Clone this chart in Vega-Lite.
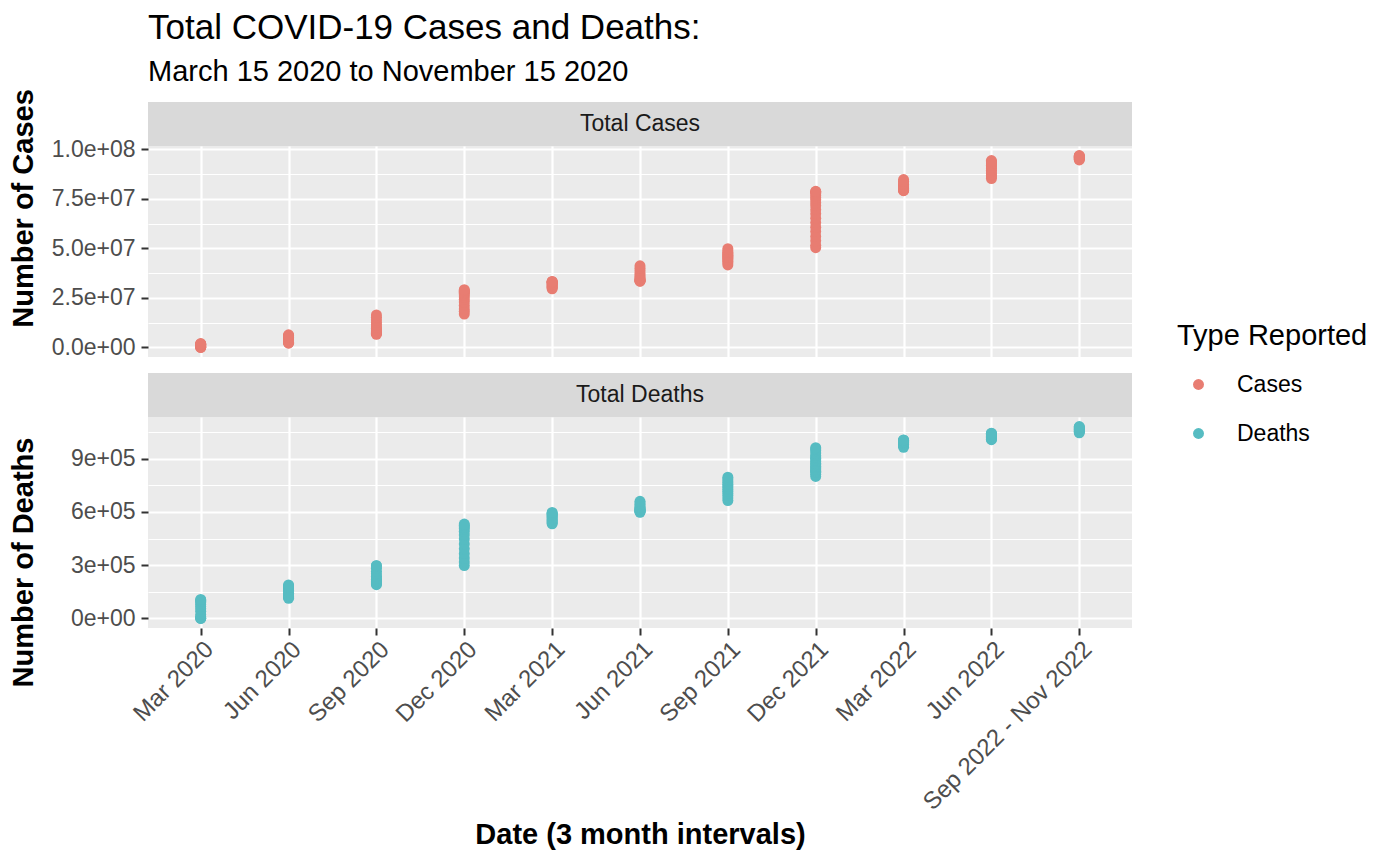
{
  "$schema": "https://vega.github.io/schema/vega-lite/v6.json",
  "padding": {"left": 9, "top": 10, "right": 10, "bottom": 10},
  "background": "white",
  "title": {
    "text": "Total COVID-19 Cases and Deaths:",
    "subtitle": "March 15 2020 to November 15 2020",
    "anchor": "start",
    "dx": 139,
    "fontSize": 35,
    "subtitleFontSize": 29,
    "fontWeight": "normal",
    "color": "#000000",
    "subtitleColor": "#000000",
    "subtitlePadding": 12,
    "offset": 2
  },
  "datasets": {
    "covid": [
      {"period": "Mar 2020", "Cases": 3500, "Deaths": 70},
      {"period": "Mar 2020", "Cases": 35000, "Deaths": 400},
      {"period": "Mar 2020", "Cases": 140000, "Deaths": 2500},
      {"period": "Mar 2020", "Cases": 340000, "Deaths": 9500},
      {"period": "Mar 2020", "Cases": 560000, "Deaths": 22000},
      {"period": "Mar 2020", "Cases": 760000, "Deaths": 40000},
      {"period": "Mar 2020", "Cases": 970000, "Deaths": 54000},
      {"period": "Mar 2020", "Cases": 1160000, "Deaths": 67000},
      {"period": "Mar 2020", "Cases": 1330000, "Deaths": 79000},
      {"period": "Mar 2020", "Cases": 1490000, "Deaths": 88000},
      {"period": "Mar 2020", "Cases": 1640000, "Deaths": 97000},
      {"period": "Mar 2020", "Cases": 1790000, "Deaths": 103000},
      {"period": "Mar 2020", "Cases": 1950000, "Deaths": 107000},
      {"period": "Jun 2020", "Cases": 2100000, "Deaths": 113000},
      {"period": "Jun 2020", "Cases": 2300000, "Deaths": 118000},
      {"period": "Jun 2020", "Cases": 2550000, "Deaths": 123000},
      {"period": "Jun 2020", "Cases": 2900000, "Deaths": 127000},
      {"period": "Jun 2020", "Cases": 3300000, "Deaths": 133000},
      {"period": "Jun 2020", "Cases": 3750000, "Deaths": 142000},
      {"period": "Jun 2020", "Cases": 4250000, "Deaths": 150000},
      {"period": "Jun 2020", "Cases": 4700000, "Deaths": 158000},
      {"period": "Jun 2020", "Cases": 5050000, "Deaths": 166000},
      {"period": "Jun 2020", "Cases": 5400000, "Deaths": 172000},
      {"period": "Jun 2020", "Cases": 5700000, "Deaths": 178000},
      {"period": "Jun 2020", "Cases": 6000000, "Deaths": 184000},
      {"period": "Jun 2020", "Cases": 6350000, "Deaths": 189000},
      {"period": "Sep 2020", "Cases": 6600000, "Deaths": 190000},
      {"period": "Sep 2020", "Cases": 6900000, "Deaths": 196000},
      {"period": "Sep 2020", "Cases": 7200000, "Deaths": 201000},
      {"period": "Sep 2020", "Cases": 7500000, "Deaths": 206000},
      {"period": "Sep 2020", "Cases": 7900000, "Deaths": 211000},
      {"period": "Sep 2020", "Cases": 8300000, "Deaths": 216000},
      {"period": "Sep 2020", "Cases": 8800000, "Deaths": 221000},
      {"period": "Sep 2020", "Cases": 9500000, "Deaths": 228000},
      {"period": "Sep 2020", "Cases": 10300000, "Deaths": 238000},
      {"period": "Sep 2020", "Cases": 11400000, "Deaths": 252000},
      {"period": "Sep 2020", "Cases": 12600000, "Deaths": 266000},
      {"period": "Sep 2020", "Cases": 13900000, "Deaths": 282000},
      {"period": "Sep 2020", "Cases": 15200000, "Deaths": 297000},
      {"period": "Sep 2020", "Cases": 16400000, "Deaths": 297000},
      {"period": "Dec 2020", "Cases": 16800000, "Deaths": 298000},
      {"period": "Dec 2020", "Cases": 18200000, "Deaths": 318000},
      {"period": "Dec 2020", "Cases": 19400000, "Deaths": 340000},
      {"period": "Dec 2020", "Cases": 21200000, "Deaths": 365000},
      {"period": "Dec 2020", "Cases": 22900000, "Deaths": 392000},
      {"period": "Dec 2020", "Cases": 24200000, "Deaths": 420000},
      {"period": "Dec 2020", "Cases": 25400000, "Deaths": 447000},
      {"period": "Dec 2020", "Cases": 26400000, "Deaths": 470000},
      {"period": "Dec 2020", "Cases": 27200000, "Deaths": 490000},
      {"period": "Dec 2020", "Cases": 27800000, "Deaths": 505000},
      {"period": "Dec 2020", "Cases": 28300000, "Deaths": 515000},
      {"period": "Dec 2020", "Cases": 28700000, "Deaths": 524000},
      {"period": "Dec 2020", "Cases": 29100000, "Deaths": 532000},
      {"period": "Mar 2021", "Cases": 29600000, "Deaths": 533000},
      {"period": "Mar 2021", "Cases": 30000000, "Deaths": 538000},
      {"period": "Mar 2021", "Cases": 30400000, "Deaths": 544000},
      {"period": "Mar 2021", "Cases": 30900000, "Deaths": 550000},
      {"period": "Mar 2021", "Cases": 31300000, "Deaths": 556000},
      {"period": "Mar 2021", "Cases": 31700000, "Deaths": 562000},
      {"period": "Mar 2021", "Cases": 32100000, "Deaths": 568000},
      {"period": "Mar 2021", "Cases": 32500000, "Deaths": 574000},
      {"period": "Mar 2021", "Cases": 32700000, "Deaths": 580000},
      {"period": "Mar 2021", "Cases": 32900000, "Deaths": 585000},
      {"period": "Mar 2021", "Cases": 33050000, "Deaths": 589000},
      {"period": "Mar 2021", "Cases": 33200000, "Deaths": 593000},
      {"period": "Mar 2021", "Cases": 33300000, "Deaths": 597000},
      {"period": "Jun 2021", "Cases": 33400000, "Deaths": 598000},
      {"period": "Jun 2021", "Cases": 33500000, "Deaths": 601000},
      {"period": "Jun 2021", "Cases": 33600000, "Deaths": 604000},
      {"period": "Jun 2021", "Cases": 33800000, "Deaths": 607000},
      {"period": "Jun 2021", "Cases": 34100000, "Deaths": 610000},
      {"period": "Jun 2021", "Cases": 34500000, "Deaths": 613000},
      {"period": "Jun 2021", "Cases": 35000000, "Deaths": 616000},
      {"period": "Jun 2021", "Cases": 35700000, "Deaths": 620000},
      {"period": "Jun 2021", "Cases": 36600000, "Deaths": 626000},
      {"period": "Jun 2021", "Cases": 37600000, "Deaths": 633000},
      {"period": "Jun 2021", "Cases": 38800000, "Deaths": 642000},
      {"period": "Jun 2021", "Cases": 40000000, "Deaths": 651000},
      {"period": "Jun 2021", "Cases": 41200000, "Deaths": 660000},
      {"period": "Sep 2021", "Cases": 41600000, "Deaths": 664000},
      {"period": "Sep 2021", "Cases": 42600000, "Deaths": 678000},
      {"period": "Sep 2021", "Cases": 43400000, "Deaths": 692000},
      {"period": "Sep 2021", "Cases": 44100000, "Deaths": 704000},
      {"period": "Sep 2021", "Cases": 44700000, "Deaths": 716000},
      {"period": "Sep 2021", "Cases": 45300000, "Deaths": 726000},
      {"period": "Sep 2021", "Cases": 45800000, "Deaths": 736000},
      {"period": "Sep 2021", "Cases": 46300000, "Deaths": 746000},
      {"period": "Sep 2021", "Cases": 46800000, "Deaths": 754000},
      {"period": "Sep 2021", "Cases": 47400000, "Deaths": 764000},
      {"period": "Sep 2021", "Cases": 48000000, "Deaths": 775000},
      {"period": "Sep 2021", "Cases": 48800000, "Deaths": 786000},
      {"period": "Sep 2021", "Cases": 49800000, "Deaths": 796000},
      {"period": "Dec 2021", "Cases": 50300000, "Deaths": 800000},
      {"period": "Dec 2021", "Cases": 51500000, "Deaths": 812000},
      {"period": "Dec 2021", "Cases": 53800000, "Deaths": 824000},
      {"period": "Dec 2021", "Cases": 56000000, "Deaths": 830000},
      {"period": "Dec 2021", "Cases": 58500000, "Deaths": 836000},
      {"period": "Dec 2021", "Cases": 60700000, "Deaths": 843000},
      {"period": "Dec 2021", "Cases": 63000000, "Deaths": 850000},
      {"period": "Dec 2021", "Cases": 65200000, "Deaths": 858000},
      {"period": "Dec 2021", "Cases": 67500000, "Deaths": 866000},
      {"period": "Dec 2021", "Cases": 69500000, "Deaths": 875000},
      {"period": "Dec 2021", "Cases": 71500000, "Deaths": 884000},
      {"period": "Dec 2021", "Cases": 73000000, "Deaths": 893000},
      {"period": "Dec 2021", "Cases": 74500000, "Deaths": 902000},
      {"period": "Dec 2021", "Cases": 75500000, "Deaths": 910000},
      {"period": "Dec 2021", "Cases": 76500000, "Deaths": 918000},
      {"period": "Dec 2021", "Cases": 77600000, "Deaths": 932000},
      {"period": "Dec 2021", "Cases": 78300000, "Deaths": 945000},
      {"period": "Dec 2021", "Cases": 78600000, "Deaths": 955000},
      {"period": "Dec 2021", "Cases": 78800000, "Deaths": 962000},
      {"period": "Mar 2022", "Cases": 79100000, "Deaths": 964000},
      {"period": "Mar 2022", "Cases": 79300000, "Deaths": 971000},
      {"period": "Mar 2022", "Cases": 79500000, "Deaths": 977000},
      {"period": "Mar 2022", "Cases": 79700000, "Deaths": 982000},
      {"period": "Mar 2022", "Cases": 80000000, "Deaths": 986000},
      {"period": "Mar 2022", "Cases": 80300000, "Deaths": 990000},
      {"period": "Mar 2022", "Cases": 80700000, "Deaths": 993000},
      {"period": "Mar 2022", "Cases": 81200000, "Deaths": 996000},
      {"period": "Mar 2022", "Cases": 81700000, "Deaths": 998000},
      {"period": "Mar 2022", "Cases": 82300000, "Deaths": 1000000},
      {"period": "Mar 2022", "Cases": 83000000, "Deaths": 1002000},
      {"period": "Mar 2022", "Cases": 83800000, "Deaths": 1004000},
      {"period": "Mar 2022", "Cases": 84700000, "Deaths": 1006000},
      {"period": "Jun 2022", "Cases": 85200000, "Deaths": 1007000},
      {"period": "Jun 2022", "Cases": 86000000, "Deaths": 1010000},
      {"period": "Jun 2022", "Cases": 86800000, "Deaths": 1013000},
      {"period": "Jun 2022", "Cases": 87600000, "Deaths": 1016000},
      {"period": "Jun 2022", "Cases": 88500000, "Deaths": 1019000},
      {"period": "Jun 2022", "Cases": 89400000, "Deaths": 1022000},
      {"period": "Jun 2022", "Cases": 90300000, "Deaths": 1026000},
      {"period": "Jun 2022", "Cases": 91100000, "Deaths": 1029000},
      {"period": "Jun 2022", "Cases": 91800000, "Deaths": 1033000},
      {"period": "Jun 2022", "Cases": 92500000, "Deaths": 1036000},
      {"period": "Jun 2022", "Cases": 93100000, "Deaths": 1039000},
      {"period": "Jun 2022", "Cases": 93700000, "Deaths": 1042000},
      {"period": "Jun 2022", "Cases": 94300000, "Deaths": 1044000},
      {"period": "Sep 2022 - Nov 2022", "Cases": 94600000, "Deaths": 1046000},
      {"period": "Sep 2022 - Nov 2022", "Cases": 94900000, "Deaths": 1050000},
      {"period": "Sep 2022 - Nov 2022", "Cases": 95200000, "Deaths": 1054000},
      {"period": "Sep 2022 - Nov 2022", "Cases": 95500000, "Deaths": 1058000},
      {"period": "Sep 2022 - Nov 2022", "Cases": 95800000, "Deaths": 1062000},
      {"period": "Sep 2022 - Nov 2022", "Cases": 96000000, "Deaths": 1066000},
      {"period": "Sep 2022 - Nov 2022", "Cases": 96200000, "Deaths": 1070000},
      {"period": "Sep 2022 - Nov 2022", "Cases": 96400000, "Deaths": 1074000},
      {"period": "Sep 2022 - Nov 2022", "Cases": 96600000, "Deaths": 1078000},
      {"period": "Sep 2022 - Nov 2022", "Cases": 96800000, "Deaths": 1081000}
    ]
  },
  "data": {"name": "covid"},
  "spacing": 13,
  "resolve": {"scale": {"color": "shared"}, "legend": {"color": "shared"}},
  "vconcat": [
    {
      "spacing": 0,
      "bounds": "flush",
      "resolve": {"scale": {"color": "shared"}, "legend": {"color": "shared"}},
      "vconcat": [
        {
          "data": {"values": [{"panel": "Total Cases"}]},
          "width": 984,
          "height": 44,
          "view": {"fill": "#d9d9d9", "stroke": null},
          "mark": {"type": "text", "fontSize": 23, "color": "#1a1a1a"},
          "encoding": {"text": {"field": "panel", "type": "nominal"}}
        },
        {
          "width": 984,
          "height": 211,
          "mark": {"type": "point", "filled": true, "opacity": 1, "size": 120, "strokeWidth": 0},
          "encoding": {
            "x": {
              "field": "period",
              "type": "nominal",
              "scale": {"domain": ["Mar 2020", "Jun 2020", "Sep 2020", "Dec 2020", "Mar 2021", "Jun 2021", "Sep 2021", "Dec 2021", "Mar 2022", "Jun 2022", "Sep 2022 - Nov 2022"], "padding": 0.6},
              "axis": {"labels": false, "ticks": false, "domain": false, "title": null, "grid": true, "gridWidth": 2.2}
            },
            "y": {
              "field": "Cases",
              "type": "quantitative",
              "scale": {"domain": [-4840000, 101640000], "nice": false, "zero": false},
              "axis": {
                "title": "Number of Cases",
                "titleX": -116,
                "titleY": 62,
                "titleBaseline": "alphabetic",
                "values": [0, 12500000, 25000000, 37500000, 50000000, 62500000, 75000000, 87500000, 100000000],
                "labelExpr": "datum.value % 25000000 === 0 ? slice(format(datum.value, '.1e'), 0, -1) + '0' + slice(format(datum.value, '.1e'), -1) : ''",
                "gridWidth": {"condition": {"test": "datum.value % 25000000 === 0", "value": 2.2}, "value": 1.1},
                "tickOpacity": {"condition": {"test": "datum.value % 25000000 === 0", "value": 1}, "value": 0}
              }
            },
            "color": {
              "datum": "Cases",
              "type": "nominal",
              "scale": {"domain": ["Cases", "Deaths"], "range": ["#E87D72", "#56BCC2"]},
              "legend": {"title": "Type Reported", "orient": "none", "legendX": 1029, "legendY": 220}
            }
          }
        }
      ]
    },
    {
      "spacing": 0,
      "bounds": "flush",
      "resolve": {"scale": {"color": "shared"}, "legend": {"color": "shared"}},
      "vconcat": [
        {
          "data": {"values": [{"panel": "Total Deaths"}]},
          "width": 984,
          "height": 44,
          "view": {"fill": "#d9d9d9", "stroke": null},
          "mark": {"type": "text", "fontSize": 23, "color": "#1a1a1a"},
          "encoding": {"text": {"field": "panel", "type": "nominal"}}
        },
        {
          "width": 984,
          "height": 211,
          "mark": {"type": "point", "filled": true, "opacity": 1, "size": 120, "strokeWidth": 0},
          "encoding": {
            "x": {
              "field": "period",
              "type": "nominal",
              "scale": {"domain": ["Mar 2020", "Jun 2020", "Sep 2020", "Dec 2020", "Mar 2021", "Jun 2021", "Sep 2021", "Dec 2021", "Mar 2022", "Jun 2022", "Sep 2022 - Nov 2022"], "padding": 0.6},
              "axis": {
                "title": "Date (3 month intervals)",
                "grid": true,
                "gridWidth": 2.2,
                "labelAngle": -45,
                "labelAlign": "right",
                "labelBaseline": "top",
                "labelFontSize": 24,
                "labelPadding": 2,
                "labelLimit": 400,
                "labelOverlap": false,
                "titlePadding": 6
              }
            },
            "y": {
              "field": "Deaths",
              "type": "quantitative",
              "scale": {"domain": [-54000, 1135000], "nice": false, "zero": false},
              "axis": {
                "title": "Number of Deaths",
                "titleX": -116,
                "titleY": 145,
                "titleBaseline": "alphabetic",
                "values": [0, 150000, 300000, 450000, 600000, 750000, 900000, 1050000],
                "labelExpr": "datum.value % 300000 === 0 ? slice(format(datum.value, '.0e'), 0, -1) + '0' + slice(format(datum.value, '.0e'), -1) : ''",
                "gridWidth": {"condition": {"test": "datum.value % 300000 === 0", "value": 2.2}, "value": 1.1},
                "tickOpacity": {"condition": {"test": "datum.value % 300000 === 0", "value": 1}, "value": 0}
              }
            },
            "color": {
              "datum": "Deaths",
              "type": "nominal",
              "scale": {"domain": ["Cases", "Deaths"], "range": ["#E87D72", "#56BCC2"]},
              "legend": {"title": "Type Reported", "orient": "none", "legendX": 1029, "legendY": 220}
            }
          }
        }
      ]
    }
  ],
  "config": {
    "font": "Liberation Sans",
    "view": {"fill": "#ebebeb", "stroke": null},
    "axis": {
      "gridColor": "#ffffff",
      "domain": false,
      "tickColor": "#333333",
      "tickSize": 7,
      "tickWidth": 2,
      "labelFontSize": 23,
      "labelColor": "#4d4d4d",
      "labelPadding": 6,
      "titleFontSize": 29,
      "titleFontWeight": "bold",
      "titleColor": "#000000"
    },
    "legend": {
      "titleFontSize": 29,
      "titleFontWeight": "normal",
      "titleColor": "#000000",
      "titleLimit": 400,
      "labelFontSize": 23,
      "labelColor": "#000000",
      "labelLimit": 300,
      "symbolType": "circle",
      "symbolSize": 120,
      "symbolStrokeWidth": 0,
      "symbolOffset": 10,
      "rowPadding": 25,
      "titlePadding": 22,
      "labelOffset": 27,
      "padding": 0
    }
  }
}
